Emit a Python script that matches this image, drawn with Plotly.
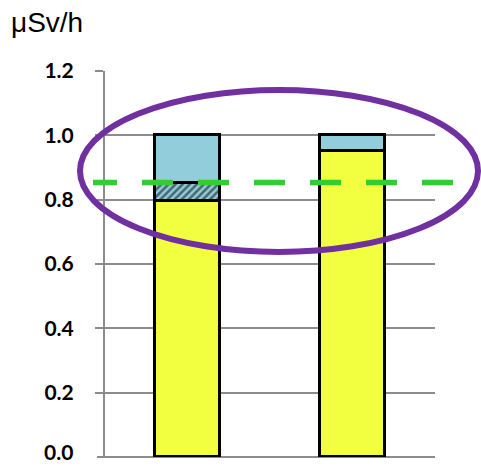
import plotly.graph_objects as go

categories = ["A", "B"]
base_values = [0.795, 0.95]      # yellow
hatched_values = [0.057, None]   # hatched blue
top_values = [0.148, 0.05]       # light blue
reference_level = 0.853          # green dashed line
tick_vals = [0.0, 0.2, 0.4, 0.6, 0.8, 1.0, 1.2]
tick_text = ["0.0", "0.2", "0.4", "0.6", "0.8", "1.0", "1.2"]
unit_label = "μSv/h"

W, H = 481, 466
L, R, T, B = 105, 46, 71, 9
ymax = 1.2
GRAY = "#8C8C8C"
TICKFONT = dict(family="Lato", size=21, color="black", weight="bold")

def px_to_paper_x(px):
    return (px - L) / (W - L - R)

def px_to_paper_y(py):
    return (H - B - py) / (H - T - B)

line = dict(color="black", width=3)
bw = 0.395

fig = go.Figure()
fig.add_trace(go.Bar(x=categories, y=base_values, width=bw,
                     marker=dict(color="#F2FF40", line=line)))
fig.add_trace(go.Bar(x=categories, y=hatched_values, width=bw,
                     marker=dict(color="#92CDDC", line=line,
                                 pattern=dict(shape="/", fgcolor="black",
                                              bgcolor="#92CDDC", size=5,
                                              solidity=0.5))))
fig.add_trace(go.Bar(x=categories, y=top_values, width=bw,
                     marker=dict(color="#92CDDC", line=line)))

# bottom gridline with tick stub at 0
fig.add_shape(type="line", xref="paper", yref="paper",
              x0=px_to_paper_x(97), x1=1, y0=0, y1=0,
              line=dict(color=GRAY, width=2), layer="below")

# green dashed reference line (extends beyond plot area)
fig.add_shape(type="line", xref="paper", yref="paper",
              x0=px_to_paper_x(93), x1=px_to_paper_x(453),
              y0=reference_level / ymax, y1=reference_level / ymax,
              line=dict(color="#33CC33", width=5.5,
                        dash="24px,25px,31px,25px,31px,25px,31px,25px,31px,25px,31px,25px,31px,25px"),
              layer="above")

# purple ellipse
fig.add_shape(type="circle", xref="paper", yref="paper",
              x0=px_to_paper_x(80), x1=px_to_paper_x(478),
              y0=px_to_paper_y(252), y1=px_to_paper_y(90),
              line=dict(color="#7030A0", width=6), layer="above")

fig.add_annotation(text=unit_label, xref="paper", yref="paper",
                   x=px_to_paper_x(9), y=px_to_paper_y(22),
                   xanchor="left", yanchor="middle", showarrow=False,
                   font=dict(family="Liberation Sans", size=28, color="black"))

# bottom tick label drawn as annotation so it stays inside the frame
fig.add_annotation(text=tick_text[0], xref="paper", yref="paper",
                   x=px_to_paper_x(75), y=px_to_paper_y(465.5),
                   xanchor="right", yanchor="bottom", showarrow=False,
                   font=TICKFONT)

fig.update_layout(
    width=W, height=H,
    margin=dict(l=L, r=R, t=T, b=B, pad=0, autoexpand=False),
    barmode="stack",
    showlegend=False,
    plot_bgcolor="white", paper_bgcolor="white",
    bargap=0,
)
fig.update_xaxes(range=[-0.5, 1.5], showticklabels=False, showgrid=False,
                 zeroline=False, showline=False, ticks="", automargin=False)
fig.update_yaxes(range=[0, ymax], tickvals=tick_vals[1:], ticktext=tick_text[1:],
                 showgrid=True, gridcolor=GRAY, gridwidth=2,
                 zeroline=False, showline=True, linecolor=GRAY, linewidth=2,
                 ticks="outside", ticklen=8, tickwidth=2, tickcolor=GRAY,
                 ticklabelstandoff=17, automargin=False,
                 tickfont=TICKFONT)

fig.write_html("out.html",
               config={"displayModeBar": False},
               post_script="document.body.style.margin='0';document.body.style.overflow='hidden';")
